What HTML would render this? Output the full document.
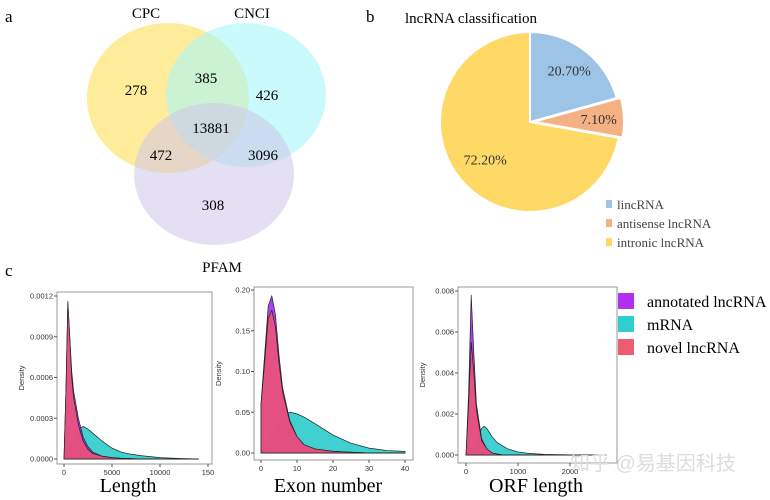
<!DOCTYPE html>
<html><head><meta charset="utf-8"><style>
body{margin:0;background:#fff}
svg{display:block;font-family:"Liberation Serif",serif}
.tick{font-family:"Liberation Sans",sans-serif;font-size:7.5px;fill:#333}
</style></head><body>
<svg id="fig" width="770" height="500" viewBox="0 0 770 500">
<text x="5" y="22" font-size="17">a</text>
<text x="366" y="22" font-size="17">b</text>
<text x="5" y="276" font-size="17">c</text>
<g>
<ellipse cx="168" cy="98" rx="81" ry="75" fill="#fde57a" opacity="0.75"/>
<ellipse cx="246" cy="95" rx="80" ry="72" fill="#a6f6f8" opacity="0.6"/>
<ellipse cx="214" cy="174" rx="80" ry="71" fill="#cfc4ea" opacity="0.55"/>
<g font-size="15" text-anchor="middle">
<text x="146" y="18">CPC</text>
<text x="252" y="18">CNCI</text>
<text x="222" y="272">PFAM</text>
<text x="136" y="95">278</text>
<text x="206" y="83">385</text>
<text x="267" y="100">426</text>
<text x="211" y="133">13881</text>
<text x="161" y="160">472</text>
<text x="263" y="160">3096</text>
<text x="213" y="210">308</text>
</g></g>
<text x="405" y="23" font-size="15">lncRNA classification</text>
<g id="pie"></g>
<g font-size="13" fill="#444">
<rect x="606" y="200" width="6" height="8" fill="#9dc3e6"/>
<text x="617" y="209">lincRNA</text>
<rect x="606" y="219" width="6" height="8" fill="#f4b183"/>
<text x="617" y="228">antisense lncRNA</text>
<rect x="606" y="238" width="6" height="8" fill="#ffd966"/>
<text x="617" y="247">intronic lncRNA</text>
</g>
<g id="dens"></g>
<g font-size="16">
<rect x="618" y="293" width="16" height="16" fill="#b030f0"/>
<text x="647" y="307">annotated lncRNA</text>
<rect x="618" y="316" width="16" height="16" fill="#30cece"/>
<text x="647" y="330">mRNA</text>
<rect x="618" y="339" width="16" height="16" fill="#ee5c74"/>
<text x="647" y="353">novel lncRNA</text>
</g>
<text x="570" y="470" font-size="20" fill="#ddd" font-family="'Liberation Sans','Noto Sans CJK SC',sans-serif">知乎 @易基因科技</text>
</svg>
<script>
const pieLabels=["lincRNA","antisense lncRNA","intronic lncRNA"];
const pieValues=[20.7,7.1,72.2];
const pieText=["20.70%","7.10%","72.20%"];
const lenX=[0,200,400,600,800,1000,1500,2000,2500,3000,4000,5000,6000,8000,10000,14000];
const lenAnn=[0,0.0005,0.00115,0.0009,0.00065,0.0005,0.0003,0.00016,0.00009,0.00005,0.00002,0.00001,0.000005,0,0,0];
const lenNov=[0,0.0005,0.00116,0.0009,0.0006,0.00045,0.00025,0.00013,0.00007,0.00004,0.00002,0.00001,0.000005,0,0,0];
const lenMX=[0,500,1000,1500,2000,2500,3000,4000,5000,6000,7000,8000,10000,12000,14000];
const lenMrna=[0,0.00005,0.00015,0.00022,0.00024,0.00022,0.00019,0.00013,0.00008,0.00005,0.000035,0.000025,0.00001,0.000004,0];
const exX=[0,1,2,3,4,5,6,8,10,12,15,20,25,30,40];
const exAnn=[0.06,0.12,0.18,0.193,0.17,0.12,0.08,0.04,0.02,0.01,0.005,0.002,0.001,0,0];
const exNov=[0.06,0.11,0.165,0.175,0.155,0.11,0.075,0.038,0.02,0.01,0.005,0.002,0.001,0,0];
const exMX=[0,2,4,6,8,10,12,15,20,25,30,35,40];
const exMrna=[0,0.015,0.03,0.045,0.05,0.048,0.044,0.036,0.022,0.012,0.006,0.003,0.002];
const orfX=[0,50,100,150,200,300,400,500,700,1000,2000,2700];
const orfAnn=[0,0.003,0.0078,0.005,0.0025,0.0008,0.0003,0.0001,0,0,0,0];
const orfNov=[0,0.0025,0.0055,0.004,0.0022,0.0007,0.0003,0.0001,0,0,0,0];
const orfMX=[0,100,200,300,350,400,500,600,800,1000,1200,1500,2000,2700];
const orfMrna=[0,0.0002,0.0007,0.0013,0.0014,0.0013,0.0009,0.0006,0.0003,0.00015,0.00008,0.00003,0.00001,0];
const lenXT=[0,5000,10000,15000],lenXL=["0","5000","10000","150"];
const lenYT=[0,0.0003,0.0006,0.0009,0.0012],lenYL=["0.0000","0.0003","0.0006","0.0009","0.0012"];
const exXT=[0,10,20,30,40],exXL=["0","10","20","30","40"];
const exYT=[0,0.05,0.1,0.15,0.2],exYL=["0.00","0.05","0.10","0.15","0.20"];
const orfXT=[0,1000,2000],orfXL=["0","1000","2000"];
const orfYT=[0,0.002,0.004,0.006,0.008],orfYL=["0.000","0.002","0.004","0.006","0.008"];
const NS="http://www.w3.org/2000/svg";
function mk(t,a,p){const e=document.createElementNS(NS,t);for(const k in a)e.setAttribute(k,a[k]);p.appendChild(e);return e;}
const pg=document.getElementById('pie');
const pcols=["#9dc3e6","#f4b183","#ffd966"];
let cx=530,cy=122,r=90,acc=0;
const tot=pieValues.reduce((a,b)=>a+b,0);
pieValues.forEach((v,i)=>{
 const a0=acc/tot*2*Math.PI,a1=(acc+v)/tot*2*Math.PI;acc+=v;
 const mid=(a0+a1)/2,off=i==1?4:0;
 const ox=cx+off*Math.sin(mid),oy=cy-off*Math.cos(mid);
 const p=mk('path',{d:`M${ox},${oy}L${ox+r*Math.sin(a0)},${oy-r*Math.cos(a0)}A${r},${r} 0 ${a1-a0>Math.PI?1:0} 1 ${ox+r*Math.sin(a1)},${oy-r*Math.cos(a1)}Z`,fill:pcols[i],stroke:'#fff','stroke-width':2},pg);
 
 
 const lr=i==2?r*0.65:r*0.72;
 const t=mk('text',{x:ox+lr*Math.sin(mid),y:oy-lr*Math.cos(mid)+5,'text-anchor':'middle','font-size':14,fill:'#333'},pg);
 t.textContent=pieText[i];
 
 
});
const dg=document.getElementById('dens');
function panel(name,box,xr,xp,yr,yp,xt,xl,yt,yl,series,title,tx){
 const g=mk('g',{},dg);
 
 
 const sx=v=>xp[0]+(v-xr[0])/(xr[1]-xr[0])*(xp[1]-xp[0]);
 const sy=v=>yp[0]+(v-yr[0])/(yr[1]-yr[0])*(yp[1]-yp[0]);
 mk('rect',{x:box[0],y:box[1],width:box[2]-box[0],height:box[3]-box[1],fill:'#fff',stroke:'#999','stroke-width':1},g);
 series.forEach(s=>{
  let d=`M${sx(s.x[0])},${sy(0)}`;
  s.x.forEach((xv,i)=>{d+=`L${sx(xv)},${sy(s.y[i])}`;});
  d+=`L${sx(s.x[s.x.length-1])},${sy(0)}Z`;
  const p=mk('path',{d,fill:s.c,'fill-opacity':0.85,stroke:'#222','stroke-width':0.7,'stroke-linejoin':'round'},g);
  
  
 });
 xt.forEach((v,i)=>{const x=sx(v);mk('line',{x1:x,x2:x,y1:box[3],y2:box[3]+3,stroke:'#555'},g);
  const t=mk('text',{x,y:box[3]+11,'text-anchor':'middle',class:'tick'},g);t.textContent=xl[i];
  
  });
 yt.forEach((v,i)=>{const y=sy(v);mk('line',{x1:box[0]-3,x2:box[0],y1:y,y2:y,stroke:'#555'},g);
  const t=mk('text',{x:box[0]-4,y:y+2.5,'text-anchor':'end',class:'tick'},g);t.textContent=yl[i];
  
  });
 const yl2=mk('text',{x:0,y:0,transform:`translate(${box[0]-33},${(box[1]+box[3])/2}) rotate(-90)`,'text-anchor':'middle',class:'tick'},g);yl2.textContent='Density';
 
 
 const tt=mk('text',{x:tx,y:492,'text-anchor':'middle','font-size':20},g);tt.textContent=title;
 
 
}
const C={a:"#a020f0",m:"#20c8c8",n:"#f05570"};
panel('length-density',[57,292,212,464],[0,15000],[64,208],[0,0.0012],[459,296],lenXT,lenXL,lenYT,lenYL,
 [{x:lenMX,y:lenMrna,c:C.m,n:'length-mrna'},{x:lenX,y:lenAnn,c:C.a,n:'length-annotated'},{x:lenX,y:lenNov,c:C.n,n:'length-novel'}],'Length',128);
panel('exon-density',[254,287,413,460],[0,40],[261,405],[0,0.2],[453,290],exXT,exXL,exYT,exYL,
 [{x:exMX,y:exMrna,c:C.m,n:'exon-mrna'},{x:exX,y:exAnn,c:C.a,n:'exon-annotated'},{x:exX,y:exNov,c:C.n,n:'exon-novel'}],'Exon number',328);
panel('orf-density',[458,287,617,463],[0,2000],[466,570],[0,0.008],[455,291],orfXT,orfXL,orfYT,orfYL,
 [{x:orfMX,y:orfMrna,c:C.m,n:'orf-mrna'},{x:orfX,y:orfAnn,c:C.a,n:'orf-annotated'},{x:orfX,y:orfNov,c:C.n,n:'orf-novel'}],'ORF length',536);
</script>
</body></html>
